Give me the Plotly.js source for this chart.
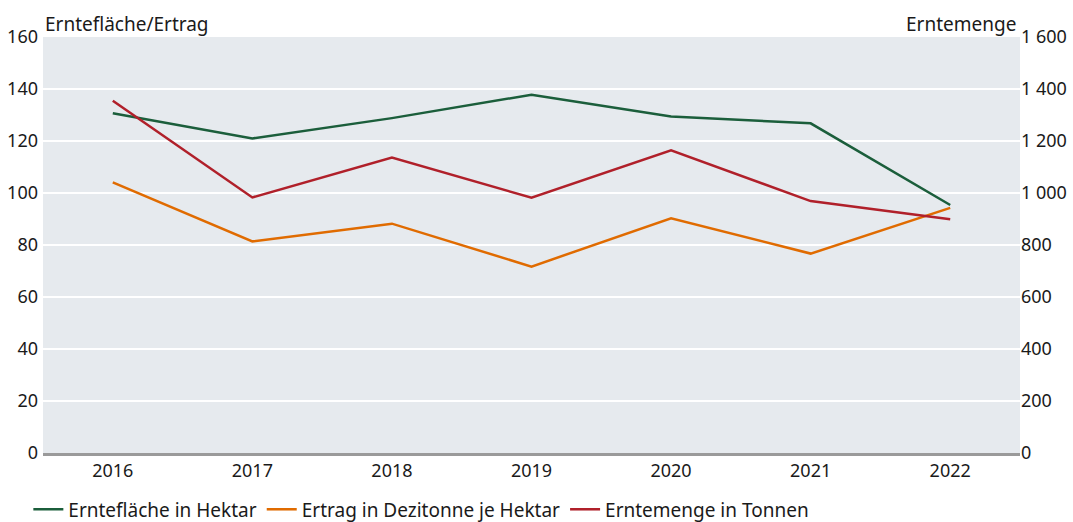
<!DOCTYPE html>
<html>
<head>
<meta charset="utf-8">
<script src="https://cdn.plot.ly/plotly-3.0.1.min.js"></script>
<style>
  html, body { margin: 0; padding: 0; background: #fff; }
  #chart { width: 1073px; height: 522px; }
</style>
</head>
<body>
<div id="chart"></div>
<script>
// Jahre und Werte
const years = ['2016', '2017', '2018', '2019', '2020', '2021', '2022'];
const flaeche = [130.7, 121.0, 128.8, 137.8, 129.4, 126.8, 95.4];   // Hektar
const ertrag = [104.1, 81.4, 88.2, 71.7, 90.3, 76.7, 94.3];        // dt je ha
const menge = [1355, 983, 1136, 982, 1164, 969, 899];             // Tonnen

const font = { family: 'Noto Sans, sans-serif', size: 18, color: '#1a1a1a' };
const bigFont = { family: 'Noto Sans, sans-serif', size: 19, color: '#1a1a1a' };

const traces = [
    {
        x: years, y: flaeche, name: 'Erntefläche in Hektar',
        type: 'scatter', mode: 'lines',
        line: { color: '#1b5e3b', width: 2.5 }
    },
    {
        x: years, y: ertrag, name: 'Ertrag in Dezitonne je Hektar',
        type: 'scatter', mode: 'lines',
        line: { color: '#e06b00', width: 2.5 }
    },
    {
        x: years, y: menge, name: 'Erntemenge in Tonnen', yaxis: 'y2',
        type: 'scatter', mode: 'lines',
        line: { color: '#b0202a', width: 2.5 }
    }
];

const layout = {
    width: 1073,
    height: 522,
    margin: { l: 43, r: 53, t: 37, b: 69, autoexpand: false },
    paper_bgcolor: '#ffffff',
    plot_bgcolor: '#e6eaee',
    font: font,
    separators: ', ',
    showlegend: true,
    legend: {
        orientation: 'h', x: -0.015, y: -0.09, xanchor: 'left', yanchor: 'top',
        font: bigFont,
        itemwidth: 30, tracegroupgap: 0
    },
    xaxis: {
        type: 'category',
        range: [-0.5, 6.5],
        showgrid: false,
        showline: true, linecolor: '#9a9a9a', linewidth: 2.5,
        ticks: '', tickfont: font,
        automargin: false
    },
    yaxis: {
        range: [0, 160], dtick: 20,
        showgrid: true, gridcolor: '#ffffff', gridwidth: 2,
        zeroline: false, ticks: '', ticklabelstandoff: 4,
        tickfont: font, automargin: false
    },
    yaxis2: {
        overlaying: 'y', side: 'right',
        range: [0, 1600], dtick: 200,
        separatethousands: true,
        showgrid: false, zeroline: false, ticks: '',
        tickfont: font, automargin: false
    },
    annotations: [
        {
            text: 'Erntefläche/Ertrag', xref: 'paper', yref: 'paper',
            x: 0, y: 1, xanchor: 'left', yanchor: 'bottom', yshift: -2,
            showarrow: false, font: bigFont
        },
        {
            text: 'Erntemenge', xref: 'paper', yref: 'paper',
            x: 1, y: 1, xanchor: 'right', yanchor: 'bottom', xshift: -2, yshift: -2,
            showarrow: false, font: bigFont
        }
    ]
};

Plotly.newPlot('chart', traces, layout, { displayModeBar: false, staticPlot: true });
</script>
</body>
</html>
